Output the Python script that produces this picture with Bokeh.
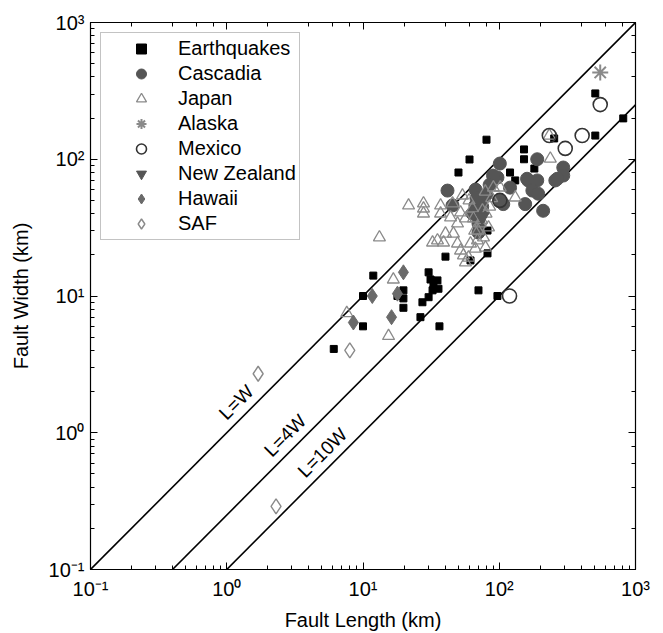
from bokeh.plotting import figure
from bokeh.models import Range1d, LogAxis, CustomJSTickFormatter, Label
from bokeh.embed import file_html
from bokeh.resources import INLINE
import math

# ---------------- data ----------------
eq_len = [6.1, 10.0, 10.0, 11.9, 19.8, 17.9, 19.8, 19.8, 30.3, 31.3, 35.2, 32.9, 35.8, 32.4,
          27.3, 30.3, 26.4, 36.4, 70.4, 97, 40.3, 61.5, 82, 82, 80.6, 60.5, 50.2, 152, 152,
          120, 131, 507, 813, 253, 507, 181]
eq_wid = [4.1, 6.0, 10.0, 14.1, 11.0, 10.0, 9.6, 8.2, 14.9, 13.2, 13.0, 11.9, 11.3, 11.0,
          9.0, 9.8, 7.0, 6.0, 11.0, 10.0, 19.4, 18.2, 20.5, 30.1, 139, 99.6, 80, 118, 100,
          80, 70, 303, 199, 142, 149, 85.5]

cas_len = [41.7, 45.4, 67, 72.5, 101, 97, 90, 101, 107, 190, 163, 190, 175, 193, 155, 210,
           258, 295, 295, 267, 160, 66.8, 70, 70.4, 70.4, 72.7, 63.6, 75, 68, 80, 85, 120]
cas_wid = [59, 46, 60, 50, 93, 73.6, 76, 50, 47, 100, 70, 70, 59, 56, 47, 42,
           70, 87, 76, 72, 72, 45.9, 38.8, 33.9, 29.1, 42.2, 40.1, 45, 52, 55, 65, 62]

jap_len = [7.6, 15.4, 13.2, 16.7, 21.6, 27.8, 27.8, 27.8, 37.1, 37.1, 43.9, 52.0, 56.5, 49.4,
           64.7, 46.1, 40.3, 35.2, 32.4, 39.0, 49.4, 52.0, 61.5, 69.2, 76.6, 66.8, 54.6, 79.3,
           56.5, 59.5, 90.6, 101.7, 131, 237, 233, 63.6, 75.3, 83.4, 72.7, 45.4, 53.7, 60,
           85, 88, 79, 70, 74, 80, 66]
jap_wid = [7.5, 5.1, 26.8, 13.2, 45.9, 47.5, 43.6, 40.1, 45.9, 40.1, 37.5, 40.8, 36.9, 33.9,
           36.9, 28.6, 28.6, 25.5, 24.6, 24.6, 24.2, 21.5, 24.2, 25.5, 26.8, 22.2, 19.8, 22.6,
           17.6, 19.1, 62.1, 62.1, 52.5, 101, 149, 43.6, 42.2, 31.7, 33.9, 47.5, 54.3, 50,
           45, 52, 58, 30, 36, 40, 30]

ala_len = [551]
ala_wid = [431]

mex_len = [233, 406, 305, 551, 119, 101]
mex_wid = [149, 149, 120, 251, 10.0, 50]

nz_len = [75]
nz_wid = [38]

haw_len = [11.7, 8.5, 19.8, 17.9, 16.2]
haw_wid = [10.0, 6.4, 14.9, 10.4, 7.0]

saf_len = [1.7, 2.3, 8.0]
saf_wid = [2.7, 0.29, 4.0]

ratios = [1, 4, 10]
ratio_labels = ["L=W", "L=4W", "L=10W"]
label_len = [1.4, 3.2, 6.0]

x_lo, x_hi = 0.1, 1000
y_lo, y_hi = 0.1, 1000

FONT = "Liberation Sans"

p = figure(width=663, height=633, x_axis_type="log", y_axis_type="log",
           x_range=Range1d(x_lo, x_hi), y_range=Range1d(y_lo, y_hi),
           output_backend="svg", toolbar_location=None,
           min_border_left=90, min_border_right=28, min_border_top=22, min_border_bottom=64)

p.xgrid.visible = False
p.ygrid.visible = False
p.outline_line_color = "black"
p.outline_line_width = 1.2
p.background_fill_color = "white"
p.border_fill_color = "white"

fmt_code = """
const sup = {"-1": "\\u207b\\u00b9", "0": "\\u2070", "1": "\\u00b9", "2": "\\u00b2", "3": "\\u00b3"};
const e = Math.round(Math.log(tick) / Math.LN10);
const s = sup[String(e)];
return "10" + (s === undefined ? String(e) : s);
"""

def style_axis(ax, show_labels=True):
    ax.major_tick_in = 7
    ax.major_tick_out = 0
    ax.minor_tick_in = 4
    ax.minor_tick_out = 0
    ax.axis_line_color = "black"
    ax.major_tick_line_color = "black"
    ax.minor_tick_line_color = "black"
    if show_labels:
        ax.formatter = CustomJSTickFormatter(code=fmt_code)
        ax.major_label_text_font = FONT
        ax.major_label_text_font_size = "20px"
        ax.major_label_text_color = "black"
        ax.axis_label_text_font = FONT
        ax.axis_label_text_font_size = "20px"
        ax.axis_label_text_font_style = "normal"
        ax.axis_label_text_color = "black"
    else:
        ax.major_label_text_font_size = "8px"
        ax.major_label_text_alpha = 0.0
        ax.major_label_standoff = 0

style_axis(p.xaxis[0])
style_axis(p.yaxis[0])
p.xaxis[0].axis_label = "Fault Length (km)"
p.yaxis[0].axis_label = "Fault Width (km)"
p.xaxis[0].major_label_standoff = 8
p.yaxis[0].major_label_standoff = 6
p.xaxis[0].axis_label_standoff = 6
p.yaxis[0].axis_label_standoff = 14

ax_r = LogAxis()
style_axis(ax_r, False)
p.add_layout(ax_r, "right")
ax_t = LogAxis()
style_axis(ax_t, False)
p.add_layout(ax_t, "above")

# reference lines
for r in ratios:
    p.line([x_lo, x_hi], [x_lo / r, x_hi / r], line_color="black", line_width=1.6)

deg45 = math.pi / 4
for r, t, lx in zip(ratios, ratio_labels, label_len):
    p.add_layout(Label(x=lx, y=lx / r, text=t, angle=deg45, text_align="center",
                       text_baseline="bottom", text_font=FONT, text_font_size="19px",
                       text_color="black", y_offset=3, x_offset=-3))

# data series
p.scatter(eq_len, eq_wid, marker="square", size=7, fill_color="black", line_color="black",
          legend_label="Earthquakes")
p.scatter(cas_len, cas_wid, marker="circle", size=13, fill_color="#555555", line_color="#555555",
          legend_label="Cascadia")
p.scatter(jap_len, jap_wid, marker="triangle", size=12, fill_color=None, line_color="#8a8a8a",
          line_width=1.3, legend_label="Japan")
p.scatter(ala_len, ala_wid, marker="asterisk", size=16, line_color="#8a8a8a", line_width=2,
          legend_label="Alaska")
p.scatter(mex_len, mex_wid, marker="circle", size=14, fill_color=None, line_color="#333333",
          line_width=1.6, legend_label="Mexico")
p.scatter(nz_len, nz_wid, marker="inverted_triangle", size=14, fill_color="#555555",
          line_color="#555555", legend_label="New Zealand")
p.scatter(haw_len, haw_wid, marker="diamond", size=15, fill_color="#6a6a6a", line_color="#6a6a6a",
          legend_label="Hawaii")
p.scatter(saf_len, saf_wid, marker="diamond", size=15, fill_color=None, line_color="#8a8a8a",
          line_width=1.4, legend_label="SAF")

lg = p.legend[0]
lg.location = "top_left"
lg.margin = 10
lg.padding = 3
lg.spacing = 0
lg.glyph_height = 25
lg.label_height = 25
lg.glyph_width = 74
lg.label_standoff = 0
lg.label_text_font = FONT
lg.label_text_font_size = "20px"
lg.label_text_color = "black"
lg.border_line_color = "#888888"
lg.border_line_width = 1.5
lg.background_fill_color = "white"
lg.background_fill_alpha = 1.0

open("out.html", "w").write(file_html(p, INLINE))
